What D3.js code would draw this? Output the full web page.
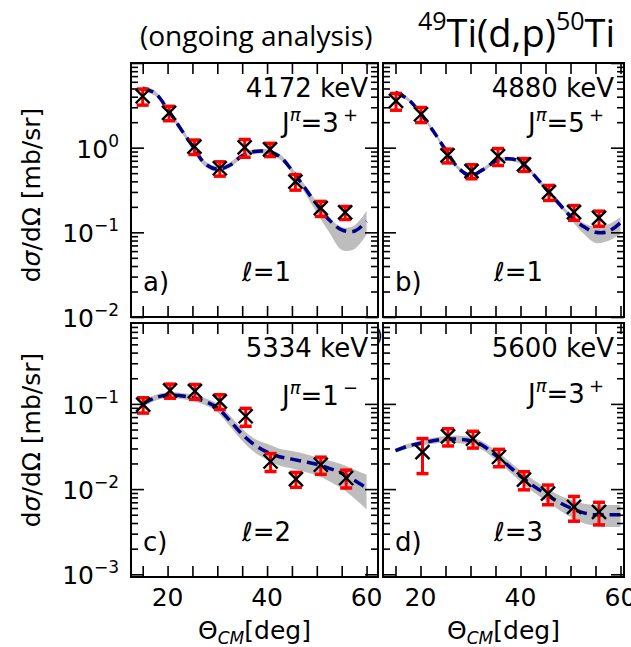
<!DOCTYPE html>
<html>
<head>
<meta charset="utf-8">
<script src="https://cdn.jsdelivr.net/npm/d3@7"></script>
<style>
  body { margin: 0; background: #fff; }
  text { font-family: "DejaVu Sans"; fill: #000; }
</style>
</head>
<body>
<script>
// ---- data ----
// theory grid (deg), shared by all fits
var thetaGrid = [15, 17.5, 20, 22.5, 25, 27.5, 30, 32.5, 35, 37.5, 40, 42.5, 45, 47.5, 50, 52.5, 55, 57.5, 60];

// a) 4172 keV
var angA = [15.0, 20.3, 25.4, 30.5, 35.5, 40.6, 45.7, 50.8, 55.7];
var xsA  = [4.05, 2.58, 1.03, 0.571, 1.01, 0.955, 0.398, 0.193, 0.172];
var errA = [0.87, 0.5, 0.2, 0.11, 0.24, 0.17, 0.083, 0.039, 0.03];
var fitA = [5.0, 4.4, 2.85, 1.72, 1.05, 0.65, 0.556, 0.62, 0.8, 0.9, 0.9, 0.79, 0.54, 0.34, 0.213, 0.14, 0.107, 0.103, 0.134];
var lowA = [4.65, 4.1, 2.65, 1.6, 0.98, 0.6, 0.52, 0.58, 0.75, 0.84, 0.84, 0.73, 0.5, 0.3, 0.17, 0.1, 0.062, 0.063, 0.094];
var highA = [5.35, 4.7, 3.05, 1.84, 1.12, 0.7, 0.6, 0.67, 0.86, 0.96, 0.96, 0.85, 0.58, 0.37, 0.23, 0.152, 0.115, 0.12, 0.18];

// b) 4880 keV
var angB = [15.1, 20.1, 25.4, 30.2, 35.5, 40.7, 45.7, 50.7, 55.7];
var xsB  = [3.57, 2.48, 0.81, 0.529, 0.796, 0.634, 0.298, 0.173, 0.148];
var errB = [0.8, 0.5, 0.15, 0.1, 0.18, 0.11, 0.06, 0.034, 0.03];
var fitB = [4.49, 3.74, 2.55, 1.58, 0.95, 0.58, 0.47, 0.55, 0.69, 0.74, 0.68, 0.49, 0.33, 0.225, 0.155, 0.118, 0.1, 0.102, 0.13];
var lowB = [4.25, 3.55, 2.42, 1.5, 0.9, 0.55, 0.445, 0.52, 0.655, 0.7, 0.645, 0.465, 0.31, 0.21, 0.143, 0.098, 0.075, 0.079, 0.095];
var highB = [4.75, 3.95, 2.7, 1.67, 1.0, 0.61, 0.5, 0.58, 0.73, 0.78, 0.72, 0.52, 0.35, 0.24, 0.167, 0.13, 0.117, 0.124, 0.152];

// c) 5334 keV
var angC = [15.1, 20.5, 25.5, 30.5, 35.7, 40.7, 45.8, 50.8, 55.9];
var xsC  = [0.098, 0.1436, 0.141, 0.107, 0.0716, 0.0211, 0.0131, 0.0193, 0.0135];
var errC = [0.02, 0.027, 0.028, 0.021, 0.017, 0.005, 0.0026, 0.0044, 0.0032];
var fitC = [0.1, 0.118, 0.127, 0.125, 0.118, 0.107, 0.09, 0.064, 0.044, 0.033, 0.0272, 0.024, 0.0225, 0.021, 0.0196, 0.0175, 0.0154, 0.0127, 0.0103];
var lowC = [0.092, 0.109, 0.117, 0.115, 0.108, 0.097, 0.08, 0.055, 0.037, 0.027, 0.022, 0.0188, 0.0175, 0.016, 0.0145, 0.0124, 0.0102, 0.0078, 0.0058];
var highC = [0.108, 0.127, 0.137, 0.135, 0.128, 0.117, 0.1, 0.073, 0.051, 0.039, 0.034, 0.0298, 0.028, 0.026, 0.0237, 0.0216, 0.0196, 0.017, 0.0148];

// d) 5600 keV
var angD = [20.4, 25.5, 30.5, 35.7, 40.7, 45.5, 50.7, 55.7];
var xsD  = [0.0272, 0.0416, 0.039, 0.0238, 0.0129, 0.00885, 0.0062, 0.0054];
var errD = [0.012, 0.0095, 0.0087, 0.0055, 0.0031, 0.0023, 0.002, 0.0016];
var fitD = [0.0283, 0.032, 0.0345, 0.037, 0.0385, 0.0385, 0.037, 0.0323, 0.025, 0.019, 0.0142, 0.011, 0.0088, 0.0071, 0.006, 0.0053, 0.005, 0.005, 0.005];
var lowD = [0.027, 0.030, 0.032, 0.034, 0.035, 0.0345, 0.033, 0.0285, 0.022, 0.0165, 0.0122, 0.0093, 0.0073, 0.0058, 0.0047, 0.004, 0.0037, 0.0036, 0.0036];
var highD = [0.0297, 0.034, 0.037, 0.040, 0.042, 0.0425, 0.041, 0.036, 0.0285, 0.0218, 0.0165, 0.013, 0.0105, 0.0086, 0.0075, 0.0068, 0.0065, 0.0065, 0.0065];

// ticks / labels
var xTicks = [15, 20, 25, 30, 35, 40, 45, 50, 55, 60];
var xTickLabels = [20, 40, 60];
var yExpTop = [0, -1, -2];
var yExpBottom = [-1, -2, -3];

var W = 631, H = 647;
var svg = d3.select("body").append("svg").attr("width", W).attr("height", H);

var panels = [
  {tag: "a)", energy: "4172 keV", spin: "3", parity: "+", ell: "1", ang: angA, xs: xsA, err: errA, fit: fitA, lo: lowA, hi: highA,
   left: 131, right: 378, top: 63, bottom: 317, xlim: [12.65, 62.3], ylim: [0.01, 10], yExp: yExpTop, xLab: false, jy: 69},
  {tag: "b)", energy: "4880 keV", spin: "5", parity: "+", ell: "1", ang: angB, xs: xsB, err: errB, fit: fitB, lo: lowB, hi: highB,
   left: 383, right: 624, top: 63, bottom: 317, xlim: [12.5, 60.7], ylim: [0.01, 10], yExp: null, xLab: false, jy: 69},
  {tag: "c)", energy: "5334 keV", spin: "1", parity: "\u2212", ell: "2", ang: angC, xs: xsC, err: errC, fit: fitC, lo: lowC, hi: highC,
   left: 131, right: 378, top: 323, bottom: 577, xlim: [12.65, 62.3], ylim: [0.00093, 0.89], yExp: yExpBottom, xLab: true, jy: 82},
  {tag: "d)", energy: "5600 keV", spin: "3", parity: "+", ell: "3", ang: angD, xs: xsD, err: errD, fit: fitD, lo: lowD, hi: highD,
   left: 383, right: 624, top: 323, bottom: 577, xlim: [12.5, 60.7], ylim: [0.00093, 0.89], yExp: null, xLab: true, jy: 80}
];

function drawPanel(p) {
  var x = d3.scaleLinear().domain(p.xlim).range([p.left, p.right]);
  var y = d3.scaleLog().domain(p.ylim).range([p.bottom, p.top]);
  var g = svg.append("g");

  // uncertainty band
  var band = d3.area()
    .x(function(d, i) { return x(thetaGrid[i]); })
    .y0(function(d, i) { return y(p.lo[i]); })
    .y1(function(d, i) { return y(p.hi[i]); })
    .curve(d3.curveCatmullRom);
  g.append("path").datum(p.fit).attr("d", band).attr("fill", "#bdbdbd");

  // fit curve
  var line = d3.line()
    .x(function(d, i) { return x(thetaGrid[i]); })
    .y(function(d) { return y(d); })
    .curve(d3.curveCatmullRom);
  g.append("path").datum(p.fit).attr("d", line)
    .attr("fill", "none").attr("stroke", "#00008b")
    .attr("stroke-width", 3.5).attr("stroke-dasharray", "11,6");

  // error bars
  var eb = g.append("g").attr("stroke", "#ff0000");
  p.xs.forEach(function(v, i) {
    var cx = x(p.ang[i]), y1 = y(v + p.err[i]), y2 = y(v - p.err[i]);
    eb.append("line").attr("x1", cx).attr("x2", cx).attr("y1", y1).attr("y2", y2).attr("stroke-width", 3);
    eb.append("line").attr("x1", cx - 6).attr("x2", cx + 6).attr("y1", y1).attr("y2", y1).attr("stroke-width", 3.5);
    eb.append("line").attr("x1", cx - 6).attr("x2", cx + 6).attr("y1", y2).attr("y2", y2).attr("stroke-width", 3.5);
  });

  // x markers
  var mk = g.append("g").attr("stroke", "#000").attr("stroke-width", 2.4);
  p.xs.forEach(function(v, i) {
    var cx = x(p.ang[i]), cy = y(v), s = 7;
    mk.append("line").attr("x1", cx - s).attr("y1", cy - s).attr("x2", cx + s).attr("y2", cy + s);
    mk.append("line").attr("x1", cx - s).attr("y1", cy + s).attr("x2", cx + s).attr("y2", cy - s);
  });

  // ticks on all four sides, pointing in
  var major = [], minor = [];
  for (var e = -4; e <= 1; e++) {
    var dv = Math.pow(10, e);
    if (dv >= p.ylim[0] && dv <= p.ylim[1]) major.push(dv);
    for (var m = 2; m <= 9; m++) {
      var v = m * dv;
      if (v > p.ylim[0] && v < p.ylim[1]) minor.push(v);
    }
  }
  function clean(sel) {
    sel.select(".domain").remove();
    sel.selectAll(".tick line").attr("stroke", "#000").attr("stroke-width", 1.6);
  }
  g.append("g").attr("transform", "translate(" + p.left + ",0)")
    .call(d3.axisLeft(y).tickValues(major).tickSize(-13).tickFormat("")).call(clean);
  g.append("g").attr("transform", "translate(" + p.left + ",0)")
    .call(d3.axisLeft(y).tickValues(minor).tickSize(-7).tickFormat("")).call(clean);
  g.append("g").attr("transform", "translate(" + p.right + ",0)")
    .call(d3.axisRight(y).tickValues(major).tickSize(-13).tickFormat("")).call(clean);
  g.append("g").attr("transform", "translate(" + p.right + ",0)")
    .call(d3.axisRight(y).tickValues(minor).tickSize(-7).tickFormat("")).call(clean);
  g.append("g").attr("transform", "translate(0," + p.bottom + ")")
    .call(d3.axisBottom(x).tickValues(xTicks).tickSize(-11).tickFormat("")).call(clean);
  g.append("g").attr("transform", "translate(0," + p.top + ")")
    .call(d3.axisTop(x).tickValues(xTicks).tickSize(-11).tickFormat("")).call(clean);

  // frame
  g.append("rect").attr("x", p.left).attr("y", p.top)
    .attr("width", p.right - p.left).attr("height", p.bottom - p.top)
    .attr("fill", "none").attr("stroke", "#000").attr("stroke-width", 2);

  // y tick labels
  if (p.yExp) {
    p.yExp.forEach(function(ex) {
      var t = g.append("text").attr("x", p.left - 12).attr("y", y(Math.pow(10, ex)) + 10)
        .attr("text-anchor", "end").attr("font-size", 25).text("10");
      t.append("tspan").attr("dy", -11).attr("font-size", 17).text(ex < 0 ? "\u2212" + (-ex) : ex);
    });
  }
  // x tick labels
  if (p.xLab) {
    xTickLabels.forEach(function(v) {
      g.append("text").attr("x", x(v)).attr("y", p.bottom + 29)
        .attr("text-anchor", "middle").attr("font-size", 25).text(v);
    });
    var xl = g.append("text").attr("x", (p.left + p.right) / 2).attr("y", 639)
      .attr("text-anchor", "middle").attr("font-size", 25).text("\u0398");
    xl.append("tspan").attr("dy", 5).attr("font-size", 17).attr("font-style", "italic").text("CM");
    xl.append("tspan").attr("dy", -5).text("[deg]");
  }

  // panel annotations
  g.append("text").attr("x", p.right - 10).attr("y", p.top + 34)
    .attr("text-anchor", "end").attr("font-size", 26).text(p.energy);
  var jt = g.append("text").attr("x", p.right - 20).attr("y", p.top + p.jy)
    .attr("text-anchor", "end").attr("font-size", 26).text("J");
  jt.append("tspan").attr("dy", -11).attr("font-size", 18).attr("font-style", "italic").text("\u03c0");
  jt.append("tspan").attr("dy", 11).text("=" + p.spin);
  jt.append("tspan").attr("dy", -11).attr("dx", 4).attr("font-size", 18).text(p.parity);
  g.append("text").attr("x", p.left + 111).attr("y", p.bottom - 36)
    .attr("font-size", 26).text("\u2113=" + p.ell);
  g.append("text").attr("x", p.left + 12).attr("y", p.bottom - 26)
    .attr("font-size", 26).text(p.tag);
}

panels.forEach(drawPanel);

// y axis labels
[195, 440].forEach(function(cy) {
  var t = svg.append("text").attr("transform", "translate(40," + cy + ") rotate(-90)")
    .attr("text-anchor", "middle").attr("font-size", 25).text("d");
  t.append("tspan").attr("font-style", "italic").text("\u03c3");
  t.append("tspan").text("/d\u03a9 [mb/sr]");
});

// stray bracket between the panels
svg.append("text").attr("x", 376).attr("y", 342).attr("font-size", 17).text(")");

// titles
svg.append("text").attr("x", 140).attr("y", 46)
  .style("font-family", "'Open Sans'").attr("font-size", 28).text("(ongoing analysis)");
var tt = svg.append("text").attr("x", 418).attr("y", 47)
  .style("font-family", "'Open Sans'").attr("font-size", 38);
tt.append("tspan").attr("font-size", 25).attr("dy", -17).text("49");
tt.append("tspan").attr("dy", 17).text("Ti(d,p)");
tt.append("tspan").attr("font-size", 25).attr("dy", -17).text("50");
tt.append("tspan").attr("dy", 17).text("Ti");
</script>
</body>
</html>
